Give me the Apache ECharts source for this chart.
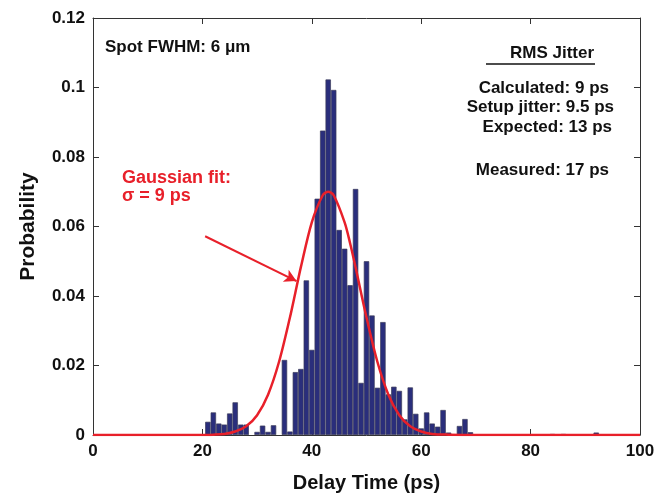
<!DOCTYPE html>
<html>
<head>
<meta charset="utf-8">
<script src="https://cdn.jsdelivr.net/npm/echarts@6/dist/echarts.min.js"></script>
<style>
  html, body { margin: 0; padding: 0; background: #fff; }
  #main { width: 669px; height: 498px; }
</style>
</head>
<body>
<div id="main"></div>
<script>
// histogram bins (ps) and probability
var binCenters = [21, 22, 23, 24, 25, 26, 27, 28, 30, 31, 32, 33, 35, 36, 37, 38, 39, 40,
    41, 42, 43, 44, 45, 46, 47, 48, 49, 50, 51, 52, 53, 54, 55, 56, 57, 58, 59, 60,
    61, 62, 63, 64, 65, 67, 68, 69, 84, 86, 92];
var probability = [0.0038, 0.0065, 0.0033, 0.003, 0.0062, 0.0094, 0.003, 0.003, 0.0009, 0.0027, 0.0009, 0.0028, 0.0216, 0.001, 0.0181, 0.019, 0.0445, 0.0245,
    0.068, 0.0876, 0.1023, 0.0993, 0.059, 0.0536, 0.0431, 0.0708, 0.015, 0.05, 0.0344, 0.0136, 0.0325, 0.0117, 0.0139, 0.0127, 0.0045, 0.0137, 0.0061, 0.0019,
    0.0065, 0.0033, 0.0024, 0.0072, 0.0007, 0.0026, 0.0046, 0.0008, 0.0003, 0.0003, 0.0007];

// red fit curve
var fitX = [0, 20, 22, 24, 26, 28, 30, 32, 34, 36, 37, 38, 40, 42, 43, 44, 46, 47, 48, 50, 52, 54, 56, 58, 60, 62, 65, 70, 100];
var fitY = [0, 0, 0.0001, 0.0003, 0.001, 0.0025, 0.0057, 0.0116, 0.021, 0.0338, 0.041, 0.0483, 0.0612, 0.069, 0.07, 0.069, 0.0612, 0.0552, 0.0483, 0.0338, 0.021, 0.0116, 0.0057, 0.0025, 0.001, 0.0003, 0.0001, 0, 0];

var xTicks = [0, 20, 40, 60, 80, 100];
var yTicks = [0, 0.02, 0.04, 0.06, 0.08, 0.1, 0.12];

var FONT = '"Liberation Sans", Arial, sans-serif';

var barData = binCenters.map(function (x, i) { return [x, probability[i]]; });
var fitData = fitX.map(function (x, i) { return [x, fitY[i]]; });

var axisCommon = {
    splitLine: {show: false},
    axisLine: {show: true, onZero: false, lineStyle: {color: '#333', width: 1}},
    axisTick: {show: true, inside: true, length: 6, lineStyle: {color: '#333'}}
};

// 注释文字
function note(x, y, text, size, color, align) {
    return {
        type: 'text', x: x, y: y,
        style: {
            text: text, font: 'bold ' + size + 'px ' + FONT, fill: color,
            textAlign: align, textVerticalAlign: 'middle'
        }
    };
}

var myChart = echarts.init(document.getElementById('main'));
var option = {
    animation: false,
    grid: {left: 93, right: 29, top: 18, bottom: 60},
    xAxis: [
        Object.assign({
            type: 'value', min: xTicks[0], max: xTicks[xTicks.length - 1], interval: 20,
            name: 'Delay Time (ps)', nameLocation: 'middle', nameGap: 38,
            nameTextStyle: {fontFamily: FONT, fontWeight: 'bold', fontSize: 20, color: '#111'},
            axisLabel: {fontFamily: FONT, fontWeight: 'bold', fontSize: 17, color: '#111', margin: 8}
        }, axisCommon),
        Object.assign({
            type: 'value', position: 'top', min: 0, max: 100, interval: 20,
            axisLabel: {show: false}
        }, axisCommon)
    ],
    yAxis: [
        Object.assign({
            type: 'value', min: yTicks[0], max: yTicks[yTicks.length - 1], interval: 0.02,
            name: 'Probability', nameLocation: 'middle', nameGap: 54, nameRotate: 90,
            nameTextStyle: {fontFamily: FONT, fontWeight: 'bold', fontSize: 21, color: '#111'},
            axisLabel: {fontFamily: FONT, fontWeight: 'bold', fontSize: 17, color: '#111', margin: 8}
        }, axisCommon),
        Object.assign({
            type: 'value', position: 'right', min: 0, max: 0.12, interval: 0.02,
            axisLabel: {show: false}
        }, axisCommon)
    ],
    series: [
        {
            type: 'bar',
            data: barData,
            barWidth: 5.4,
            itemStyle: {color: '#2a2e7c', borderColor: '#3c3c5a', borderWidth: 0.7}
        },
        {
            type: 'line',
            data: fitData,
            smooth: 0.3,
            showSymbol: false,
            lineStyle: {color: '#e8202a', width: 2.5},
            z: 5,
            markLine: {
                silent: true,
                symbol: ['none', 'arrow'],
                symbolSize: [10, 12],
                label: {show: false},
                lineStyle: {color: '#e8202a', width: 2, type: 'solid'},
                data: [[{coord: [20.5, 0.0572]}, {coord: [37.2, 0.0443]}]]
            }
        }
    ],
    graphic: [
        note(105, 47, 'Spot FWHM: 6 \u03bcm', 17, '#111', 'left'),
        note(122, 178, 'Gaussian fit:', 18, '#e8202a', 'left'),
        note(122, 196, '\u03c3 = 9 ps', 18, '#e8202a', 'left'),
        note(552, 53, 'RMS Jitter', 17, '#111', 'center'),
        {type: 'line', shape: {x1: 486, y1: 64, x2: 595, y2: 64}, style: {stroke: '#111', lineWidth: 1.5}},
        note(609, 88, 'Calculated: 9 ps', 17, '#111', 'right'),
        note(614, 107, 'Setup jitter: 9.5 ps', 17, '#111', 'right'),
        note(612, 127, 'Expected: 13 ps', 17, '#111', 'right'),
        note(609, 170, 'Measured: 17 ps', 17, '#111', 'right')
    ]
};
myChart.setOption(option);
</script>
</body>
</html>
